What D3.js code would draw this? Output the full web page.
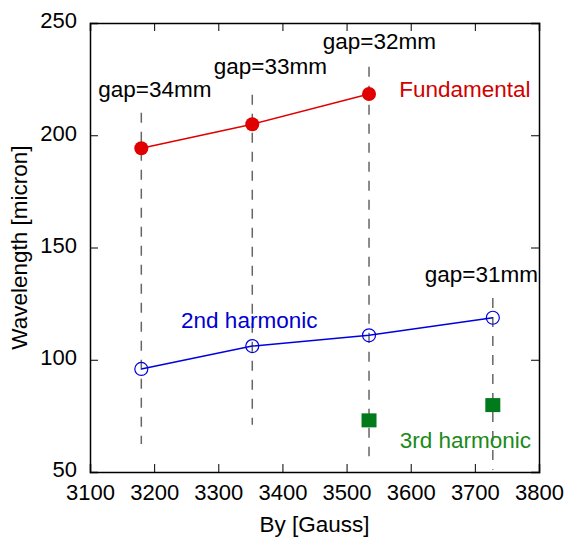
<!DOCTYPE html>
<html>
<head>
<meta charset="utf-8">
<script src="https://cdn.jsdelivr.net/npm/d3@7"></script>
<style>
  body { margin: 0; background: #fff; }
  svg text { font-family: Arial, "Liberation Sans", sans-serif; }
</style>
</head>
<body>
<div id="chart"></div>
<script>
// field values (By, Gauss) for each gap setting
const byField = [3180, 3353, 3535, 3728];
const gapLabels = ["gap=34mm", "gap=33mm", "gap=32mm", "gap=31mm"];

// wavelengths in micron
const fundamental = [194.2, 204.9, 218.4];          // first three fields
const secondHarmonic = [95.9, 106.1, 110.9, 118.7];  // all four fields
const thirdField = [3535, 3728];
const thirdHarmonic = [73.0, 79.8];

// dashed guide lines, wavelength range covered
const guideTop = [210, 218, 230.5, 127.5];
const guideBottom = [62.5, 71, 57, 51];

const xTicks = [3100, 3200, 3300, 3400, 3500, 3600, 3700, 3800];
const yTicks = [50, 100, 150, 200, 250];

const width = 564, height = 537;
const margin = { top: 23, right: 25, bottom: 65, left: 90 };

const svg = d3.select("#chart").append("svg")
  .attr("width", width)
  .attr("height", height);

const x = d3.scaleLinear().domain([3100, 3800]).range([margin.left, width - margin.right]);
const y = d3.scaleLinear().domain([50, 250]).range([height - margin.bottom, margin.top]);

// axes: inward ticks on all four sides
const tickLen = 8;
svg.append("g")
  .attr("transform", `translate(0,${y(50)})`)
  .call(d3.axisBottom(x).tickValues(xTicks).tickSize(-tickLen).tickPadding(tickLen + 4).tickFormat(d3.format("d")))
  .call(g => g.selectAll("text").attr("font-size", "22px").attr("fill", "#000"));
svg.append("g")
  .attr("transform", `translate(0,${y(250)})`)
  .call(d3.axisTop(x).tickValues(xTicks).tickSize(-tickLen).tickFormat(""));
svg.append("g")
  .attr("transform", `translate(${x(3100)},0)`)
  .call(d3.axisLeft(y).tickValues(yTicks).tickSize(-tickLen).tickPadding(tickLen + 5))
  .call(g => g.selectAll("text").attr("font-size", "22px").attr("fill", "#000").attr("dy", "0.22em"));
svg.append("g")
  .attr("transform", `translate(${x(3800)},0)`)
  .call(d3.axisRight(y).tickValues(yTicks).tickSize(-tickLen).tickFormat(""));
svg.selectAll(".domain").attr("stroke", "#000").attr("stroke-width", 1.5);
svg.selectAll(".tick line").attr("stroke", "#000");

// hide the ticks sitting on the frame corners
svg.selectAll(".tick").filter(d => d === 3100 || d === 3800 || d === 50 || d === 250)
  .select("line").attr("stroke", "none");

// axis titles
svg.append("text")
  .attr("x", (x(3100) + x(3800)) / 2)
  .attr("y", 532)
  .attr("text-anchor", "middle")
  .attr("font-size", "22.5px")
  .text("By [Gauss]");
svg.append("text")
  .attr("transform", `translate(27,${(y(50) + y(250)) / 2}) rotate(-90)`)
  .attr("text-anchor", "middle")
  .attr("font-size", "22.5px")
  .text("Wavelength [micron]");

// dashed guides
svg.selectAll(".guide")
  .data(byField)
  .enter()
  .append("line")
  .attr("class", "guide")
  .attr("x1", d => x(d))
  .attr("x2", d => x(d))
  .attr("y1", (d, i) => y(guideTop[i]))
  .attr("y2", (d, i) => y(guideBottom[i]))
  .attr("stroke", "#666")
  .attr("stroke-width", 1.5)
  .attr("stroke-dasharray", "10,9");

const line = d3.line().x(d => x(d[0])).y(d => y(d[1]));

// fundamental
const fundPts = fundamental.map((v, i) => [byField[i], v]);
svg.append("path")
  .attr("d", line(fundPts))
  .attr("fill", "none")
  .attr("stroke", "#e00000")
  .attr("stroke-width", 1.5);
svg.selectAll(".fund")
  .data(fundPts)
  .enter()
  .append("circle")
  .attr("cx", d => x(d[0]))
  .attr("cy", d => y(d[1]))
  .attr("r", 7)
  .attr("fill", "#e00000");

// 2nd harmonic
const secPts = secondHarmonic.map((v, i) => [byField[i], v]);
svg.append("path")
  .attr("d", line(secPts))
  .attr("fill", "none")
  .attr("stroke", "#0000e0")
  .attr("stroke-width", 1.5);
svg.selectAll(".sec")
  .data(secPts)
  .enter()
  .append("circle")
  .attr("cx", d => x(d[0]))
  .attr("cy", d => y(d[1]))
  .attr("r", 6.5)
  .attr("fill", "none")
  .attr("stroke", "#0000e0")
  .attr("stroke-width", 1.2);

// 3rd harmonic
svg.selectAll(".third")
  .data(thirdHarmonic)
  .enter()
  .append("rect")
  .attr("x", (d, i) => x(thirdField[i]) - 7.5)
  .attr("y", d => y(d) - 7)
  .attr("width", 15)
  .attr("height", 14)
  .attr("fill", "#007a1a");

// annotations (positions in data units)
const annotations = [
  { text: gapLabels[0], bx: 3113, w: 216.9, color: "#000" },
  { text: gapLabels[1], bx: 3293, w: 227.1, color: "#000" },
  { text: gapLabels[2], bx: 3463, w: 238.3, color: "#000" },
  { text: gapLabels[3], bx: 3622, w: 134.6, color: "#000" },
  { text: "Fundamental", bx: 3582, w: 216.9, color: "#d00000" },
  { text: "2nd harmonic", bx: 3242, w: 114.0, color: "#0000d0" },
  { text: "3rd harmonic", bx: 3583, w: 60.6, color: "#1a8a1a" },
];
svg.selectAll(".note")
  .data(annotations)
  .enter()
  .append("text")
  .attr("x", d => x(d.bx))
  .attr("y", d => y(d.w))
  .attr("font-size", "22.5px")
  .attr("fill", d => d.color)
  .text(d => d.text);
</script>
</body>
</html>
